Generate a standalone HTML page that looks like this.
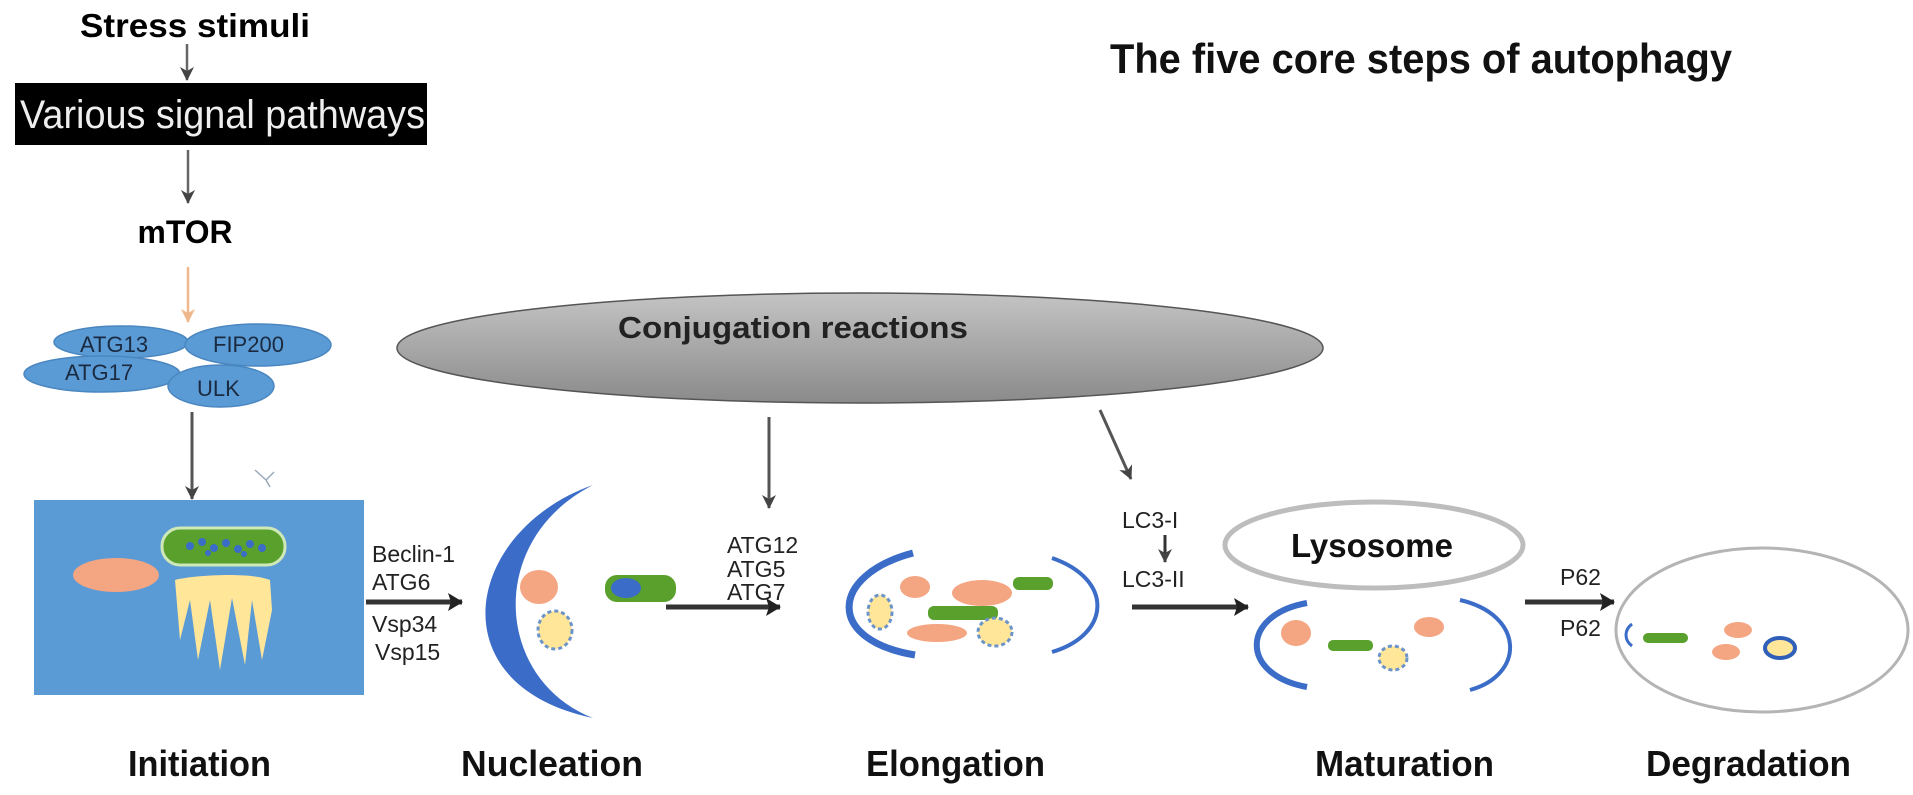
<!DOCTYPE html>
<html><head><meta charset="utf-8"><style>
html,body{margin:0;padding:0;background:#fff;}
svg{display:block;font-family:"Liberation Sans",Arial,sans-serif;}
</style></head><body>
<svg width="1913" height="795" viewBox="0 0 1913 795" xmlns="http://www.w3.org/2000/svg">
<defs>
<marker id="ah" markerWidth="16" markerHeight="16" refX="13" refY="8" orient="auto" markerUnits="userSpaceOnUse">
<path d="M0,1 L14,8 L0,15 L4,8 Z" fill="#444"/></marker>
<marker id="ahb" markerWidth="16" markerHeight="18" refX="14" refY="9" orient="auto" markerUnits="userSpaceOnUse">
<path d="M0,0 L15,9 L0,18 L3,9 Z" fill="#222"/></marker>
<marker id="aho" markerWidth="16" markerHeight="16" refX="13" refY="8" orient="auto" markerUnits="userSpaceOnUse">
<path d="M0,1 L14,8 L0,15 L4,8 Z" fill="#f0b88a"/></marker>
<linearGradient id="gg" x1="0" y1="0" x2="0" y2="1">
<stop offset="0" stop-color="#c4c4c4"/><stop offset="1" stop-color="#8a8a8a"/></linearGradient>
</defs>

<!-- Top left pathway -->
<text x="195" y="37" font-size="33" font-weight="bold" text-anchor="middle" textLength="230" lengthAdjust="spacingAndGlyphs">Stress stimuli</text>
<line x1="187" y1="44" x2="187" y2="80" stroke="#666" stroke-width="2.5" marker-end="url(#ah)"/>
<rect x="15" y="83" width="412" height="62" fill="#000"/>
<text x="20" y="128" font-size="40" fill="#eee" textLength="405" lengthAdjust="spacingAndGlyphs">Various signal pathways</text>
<line x1="188" y1="150" x2="188" y2="203" stroke="#666" stroke-width="2.5" marker-end="url(#ah)"/>
<text x="185" y="243" font-size="32" font-weight="bold" text-anchor="middle" textLength="95" lengthAdjust="spacingAndGlyphs">mTOR</text>
<line x1="188" y1="267" x2="188" y2="322" stroke="#f0b88a" stroke-width="2.5" marker-end="url(#aho)"/>

<!-- ULK complex -->
<g fill="#5b9bd5" stroke="#4a86c0" stroke-width="1.5">
<ellipse cx="121" cy="342" rx="67" ry="16"/>
<ellipse cx="258" cy="345" rx="73" ry="21"/>
<ellipse cx="102" cy="374" rx="78" ry="18"/>
<ellipse cx="221" cy="386" rx="53" ry="21"/>
</g>
<g font-size="22" fill="#1a2a40">
<text x="80" y="352">ATG13</text>
<text x="213" y="352">FIP200</text>
<text x="65" y="380">ATG17</text>
<text x="197" y="396">ULK</text>
</g>
<line x1="192" y1="412" x2="192" y2="499" stroke="#555" stroke-width="3" marker-end="url(#ah)"/>
<path d="M255,470 L266,480 M266,480 L274,472 M266,480 L270,487" stroke="#9ab" stroke-width="1.5" fill="none"/>

<!-- Initiation box -->
<rect x="34" y="500" width="330" height="195" fill="#5b9bd5"/>
<ellipse cx="116" cy="575" rx="43" ry="17" fill="#f4a582"/>
<path d="M175,580 C195,575 250,572 270,580 L272,610 L262,660 L252,600 L245,665 L232,598 L220,670 L210,600 L198,660 L190,600 L180,640 Z" fill="#ffe699"/>
<rect x="162" y="528" width="123" height="37" rx="18" fill="#5aa02c" stroke="#cfe8b8" stroke-width="3"/>
<g fill="#3a6cc8"><circle cx="190" cy="546" r="4"/><circle cx="202" cy="542" r="4"/><circle cx="214" cy="548" r="4"/><circle cx="226" cy="543" r="4"/><circle cx="238" cy="549" r="4"/><circle cx="250" cy="544" r="4"/><circle cx="262" cy="548" r="4"/><circle cx="208" cy="553" r="3"/><circle cx="244" cy="554" r="3"/></g>

<!-- Beclin labels -->
<g font-size="23" fill="#222">
<text x="372" y="562">Beclin-1</text>
<text x="372" y="590">ATG6</text>
<text x="372" y="632">Vsp34</text>
<text x="375" y="660">Vsp15</text>
</g>
<line x1="366" y1="602" x2="462" y2="602" stroke="#333" stroke-width="5" marker-end="url(#ahb)"/>

<!-- Nucleation crescent -->
<path d="M593,485 C465,530 435,685 593,718 C495,680 485,540 593,485 Z" fill="#3a6cc8"/>
<ellipse cx="539" cy="587" rx="19" ry="17" fill="#f4a582"/>
<ellipse cx="555" cy="630" rx="17" ry="19" fill="#ffe699" stroke="#6d94c8" stroke-width="3" stroke-dasharray="4 3"/>
<rect x="605" y="575" width="71" height="27" rx="12" fill="#5aa02c"/>
<ellipse cx="626" cy="588" rx="15" ry="10" fill="#3a6cc8"/>
<line x1="666" y1="607" x2="780" y2="607" stroke="#333" stroke-width="5" marker-end="url(#ahb)"/>
<g font-size="23" fill="#222">
<text x="727" y="553">ATG12</text>
<text x="727" y="577">ATG5</text>
<text x="727" y="600">ATG7</text>
</g>

<!-- Conjugation ellipse -->
<ellipse cx="860" cy="348" rx="463" ry="55" fill="url(#gg)" stroke="#555" stroke-width="1.5"/>
<text x="793" y="338" font-size="31" font-weight="bold" text-anchor="middle" fill="#222" textLength="350" lengthAdjust="spacingAndGlyphs">Conjugation reactions</text>
<line x1="769" y1="417" x2="769" y2="508" stroke="#555" stroke-width="3" marker-end="url(#ah)"/>
<line x1="1100" y1="410" x2="1131" y2="479" stroke="#555" stroke-width="3" marker-end="url(#ah)"/>

<!-- Title -->
<text x="1421" y="73" font-size="42" font-weight="bold" text-anchor="middle" fill="#111" textLength="622" lengthAdjust="spacingAndGlyphs">The five core steps of autophagy</text>

<!-- Elongation -->
<path d="M913,553 C830,575 825,640 915,655" stroke="#3a6cc8" stroke-width="7" fill="none"/>
<path d="M1052,558 C1115,580 1110,635 1052,652" stroke="#3a6cc8" stroke-width="4" fill="none"/>
<ellipse cx="915" cy="587" rx="15" ry="11" fill="#f4a582"/>
<ellipse cx="982" cy="593" rx="30" ry="13" fill="#f4a582"/>
<rect x="1013" y="577" width="40" height="13" rx="6" fill="#5aa02c"/>
<rect x="928" y="606" width="70" height="14" rx="6" fill="#5aa02c"/>
<ellipse cx="937" cy="633" rx="30" ry="9" fill="#f4a582"/>
<ellipse cx="880" cy="612" rx="12" ry="17" fill="#ffe699" stroke="#6d94c8" stroke-width="3" stroke-dasharray="4 3"/>
<ellipse cx="995" cy="632" rx="17" ry="14" fill="#ffe699" stroke="#6d94c8" stroke-width="3" stroke-dasharray="4 3"/>

<!-- LC3 -->
<g font-size="23" fill="#222">
<text x="1122" y="528">LC3-I</text>
<text x="1122" y="587">LC3-II</text>
</g>
<line x1="1165" y1="535" x2="1165" y2="562" stroke="#333" stroke-width="3" marker-end="url(#ah)"/>
<line x1="1132" y1="607" x2="1248" y2="607" stroke="#333" stroke-width="5" marker-end="url(#ahb)"/>

<!-- Lysosome -->
<ellipse cx="1374" cy="545" rx="149" ry="43" fill="#fff" stroke="#bdbdbd" stroke-width="5"/>
<text x="1372" y="557" font-size="33" font-weight="bold" text-anchor="middle" fill="#111">Lysosome</text>

<!-- Maturation -->
<path d="M1307,603 C1240,615 1240,675 1307,687" stroke="#3a6cc8" stroke-width="6" fill="none"/>
<path d="M1460,600 C1525,615 1525,675 1470,690" stroke="#3a6cc8" stroke-width="4" fill="none"/>
<ellipse cx="1296" cy="633" rx="15" ry="13" fill="#f4a582"/>
<rect x="1328" y="640" width="45" height="11" rx="5" fill="#5aa02c"/>
<ellipse cx="1429" cy="627" rx="15" ry="10" fill="#f4a582"/>
<ellipse cx="1393" cy="658" rx="14" ry="12" fill="#ffe699" stroke="#6d94c8" stroke-width="3" stroke-dasharray="4 3"/>

<!-- P62 -->
<g font-size="23" fill="#222">
<text x="1560" y="585">P62</text>
<text x="1560" y="636">P62</text>
</g>
<line x1="1525" y1="602" x2="1614" y2="602" stroke="#333" stroke-width="5" marker-end="url(#ahb)"/>

<!-- Degradation -->
<ellipse cx="1762" cy="630" rx="146" ry="82" fill="#fff" stroke="#b4b4b4" stroke-width="3"/>
<path d="M1632,624 C1624,630 1624,640 1632,646" stroke="#3a6cc8" stroke-width="3" fill="none"/>
<rect x="1643" y="633" width="45" height="10" rx="5" fill="#5aa02c"/>
<ellipse cx="1738" cy="630" rx="14" ry="8" fill="#f4a582"/>
<ellipse cx="1726" cy="652" rx="14" ry="8" fill="#f4a582"/>
<ellipse cx="1780" cy="648" rx="15" ry="10" fill="#ffe699" stroke="#2f5fb8" stroke-width="4"/>

<!-- Stage labels -->
<g font-size="36" font-weight="bold" fill="#111">
<text x="128" y="776" textLength="143" lengthAdjust="spacingAndGlyphs">Initiation</text>
<text x="461" y="776" textLength="182" lengthAdjust="spacingAndGlyphs">Nucleation</text>
<text x="866" y="776" textLength="179" lengthAdjust="spacingAndGlyphs">Elongation</text>
<text x="1315" y="776" textLength="179" lengthAdjust="spacingAndGlyphs">Maturation</text>
<text x="1646" y="776" textLength="205" lengthAdjust="spacingAndGlyphs">Degradation</text>
</g>
</svg>
</body></html>
